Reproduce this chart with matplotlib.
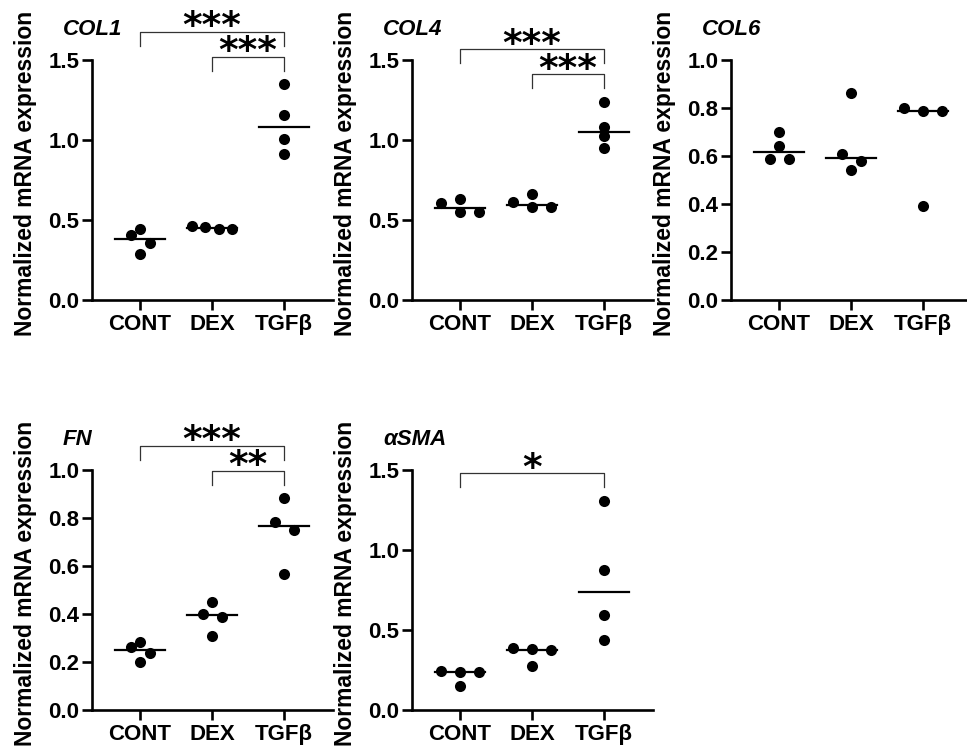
import numpy as np
import matplotlib
matplotlib.use("Agg")
import matplotlib.pyplot as plt
from matplotlib.ticker import FormatStrFormatter, MultipleLocator

plt.rcParams['font.family'] = ['Liberation Sans', 'DejaVu Sans']
plt.rcParams['font.weight'] = 'bold'

# group names on the x axis
groups = ["CONT", "DEX", "TGFβ"]

# normalized mRNA expression, 4 replicates per group
col1_cont = [0.406, 0.442, 0.358, 0.288]
col1_dex = [0.446, 0.460, 0.446, 0.458]
col1_tgf = [1.348, 1.156, 1.004, 0.910]

col4_cont = [0.548, 0.604, 0.631, 0.548]
col4_dex = [0.583, 0.610, 0.660, 0.579]
col4_tgf = [1.240, 1.080, 1.022, 0.952]

col6_cont = [0.700, 0.642, 0.589, 0.589]
col6_dex = [0.861, 0.607, 0.579, 0.540]
col6_tgf = [0.799, 0.788, 0.788, 0.391]

fn_cont = [0.261, 0.285, 0.239, 0.201]
fn_dex = [0.451, 0.400, 0.389, 0.310]
fn_tgf = [0.882, 0.785, 0.750, 0.567]

sma_cont = [0.244, 0.240, 0.240, 0.152]
sma_dex = [0.385, 0.375, 0.379, 0.275]
sma_tgf = [1.306, 0.875, 0.594, 0.438]

# significance comparisons (group i, group j, stars)
col1_sig = [(1, 2, "***"), (0, 2, "***")]
col4_sig = [(1, 2, "***"), (0, 2, "***")]
col6_sig = []
fn_sig = [(1, 2, "**"), (0, 2, "***")]
sma_sig = [(0, 2, "*")]

panels = [
    ("COL1", [col1_cont, col1_dex, col1_tgf], 1.5, 0.5, col1_sig),
    ("COL4", [col4_cont, col4_dex, col4_tgf], 1.5, 0.5, col4_sig),
    ("COL6", [col6_cont, col6_dex, col6_tgf], 1.0, 0.2, col6_sig),
    ("FN", [fn_cont, fn_dex, fn_tgf], 1.0, 0.2, fn_sig),
    ("αSMA", [sma_cont, sma_dex, sma_tgf], 1.5, 0.5, sma_sig),
]

W, H = 967, 754
fig = plt.figure(figsize=(W / 100, H / 100), dpi=100)

ax_w, ax_h = 241 / W, 240 / H
lefts = [92 / W, 412 / W, 731 / W]
bottoms = [1 - 300 / H, 1 - 710 / H]
rects = [(lefts[0], bottoms[0]), (lefts[1], bottoms[0]), (lefts[2], bottoms[0]),
         (lefts[0], bottoms[1]), (lefts[1], bottoms[1])]


def swarm(vals, px_x, px_y, thresh=9, step=19, maxhalf=20):
    # Prism-like spreading: points closer than thresh px in y share a row
    vals = np.asarray(vals)
    order = np.argsort(vals, kind="stable")
    rows = []
    for idx in order:
        y = vals[idx] * px_y
        if rows and y - rows[-1][0] < thresh:
            rows[-1][1].append(idx)
        else:
            rows.append([y, [idx]])
    off = np.zeros(len(vals))
    for _, members in rows:
        members = sorted(members, key=lambda m: -vals[m])
        k = len(members)
        s = step if k < 3 else min(step, 2 * maxhalf / (k - 1))
        for i, m in enumerate(members):
            off[m] = (i - (k - 1) / 2) * s / px_x
    return off


for (title, data, ymax, ystep, sigs), (l, b) in zip(panels, rects):
    ax = fig.add_axes([l, b, ax_w, ax_h])
    ax.set_xlim(-0.667, 2.68)
    ax.set_ylim(0, ymax)
    px_x = ax_w * W / (2.68 + 0.667)
    px_y = ax_h * H / ymax

    for i, vals in enumerate(data):
        off = swarm(vals, px_x, px_y)
        ax.scatter(i + off, vals, s=64, color="black", zorder=3, clip_on=False,
                   linewidths=0)
        med = np.median(vals)
        ax.plot([i - 0.35, i + 0.35], [med, med], color="black", lw=1.6, zorder=2)

    # significance brackets
    prev = None
    for i, j, stars in sigs:
        top = max(max(v) for v in data[i:j + 1])
        y = top + 27.6 / px_y
        if prev is not None:
            y = max(y, prev + 25 / px_y)
        prev = y
        drop = 14 / px_y
        ax.plot([i, i, j, j], [y - drop, y, y, y - drop], color="#333333", lw=0.9,
                clip_on=False)
        ax.annotate(stars, xy=((i + j) / 2, y), xytext=(0, -4), textcoords="offset points",
                    ha="center", va="baseline", fontsize=27, family="DejaVu Sans",
                    fontweight="bold", annotation_clip=False)

    for side in ["top", "right"]:
        ax.spines[side].set_visible(False)
    for side in ["left", "bottom"]:
        ax.spines[side].set_linewidth(1.9)
    ax.set_xticks(range(len(groups)))
    ax.set_xticklabels(groups)
    ax.yaxis.set_major_locator(MultipleLocator(ystep))
    ax.yaxis.set_major_formatter(FormatStrFormatter('%.1f'))
    ax.tick_params(axis="both", direction="out", length=7, width=1.9, labelsize=16)
    ax.tick_params(axis="y", pad=2)
    ax.tick_params(axis="x", pad=3)

    ax.set_ylabel("Normalized mRNA expression", fontsize=16.5, fontweight="bold")
    ax.yaxis.set_label_coords(-0.23, 0.527)
    ax.text(-0.12, 1.104, title, transform=ax.transAxes, ha="left", va="baseline",
            fontsize=16, fontweight="bold", style="italic")

fig.savefig("out.png", dpi=100)
